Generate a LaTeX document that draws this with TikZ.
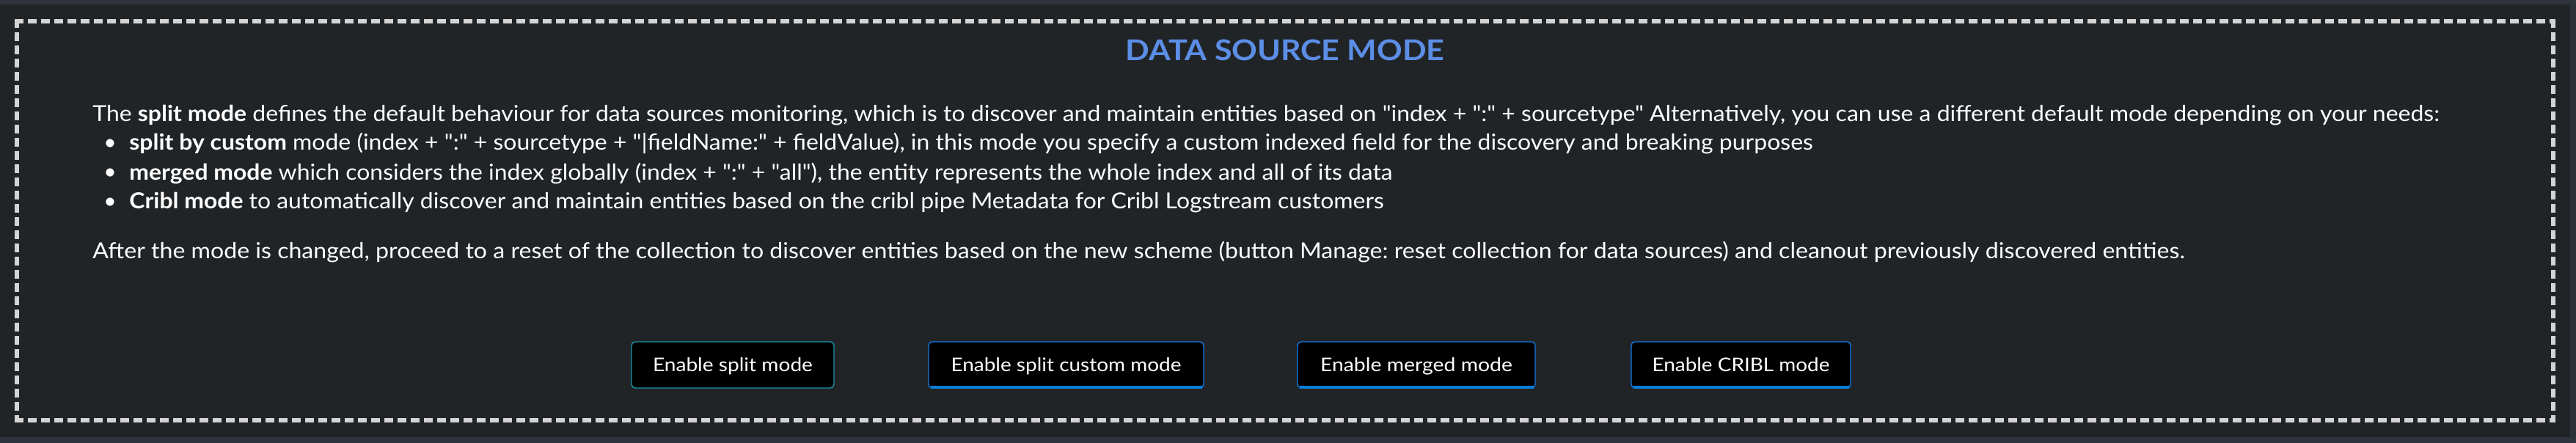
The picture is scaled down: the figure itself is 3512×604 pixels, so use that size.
\documentclass[tikz,border=0pt]{standalone}
\usepackage{fontspec}
\setmainfont{Lato}[Ligatures=TeXOff]
\usepackage{graphicx}
\frenchspacing
\definecolor{bgc}{RGB}{33,36,39}
\definecolor{stripc}{RGB}{47,52,60}
\definecolor{dashc}{RGB}{212,212,212}
\definecolor{titlec}{RGB}{92,142,230}
\definecolor{tealc}{RGB}{25,150,170}
\definecolor{bluec}{RGB}{20,122,232}
\definecolor{bluebot}{RGB}{10,125,215}
\newcommand{\fitw}[2]{\resizebox{#1}{\height}{#2}}
\tikzset{
  frame/.style={draw=dashc, line width=3pt, dash pattern=on 6pt off 3pt},
  titlestyle/.style={inner sep=0pt, text=titlec, font=\fontsize{19.5pt}{22pt}\selectfont\bfseries},
  body/.style={inner sep=0pt, text=white, font=\fontsize{15pt}{18pt}\selectfont},
  btn/.style={draw, fill=black, rounded corners=2.5pt, line width=0.7pt, inner sep=0pt,
    minimum height=31.5pt, text height=9.5pt, text depth=1pt, text=white,
    font=\fontsize{12.8pt}{14pt}\selectfont},
  tealbtn/.style={btn, draw=tealc},
  bluebtn/.style={btn, draw=bluec}
}
\begin{document}
\begin{tikzpicture}[x=0.5pt,y=-0.5pt]
\useasboundingbox (0,0) rectangle (3512,604);
\fill[bgc] (0,0) rectangle (3512,604);
\fill[stripc] (0,0) rectangle (3512,6);
\fill[stripc] (0,596) rectangle (3512,604);
\fill[stripc!85!bgc] (3504,6) rectangle (3512,596);
% dashed frame
\coordinate (tl) at (20,29);
\coordinate (tr) at (3484,29);
\coordinate (bl) at (20,573);
\coordinate (br) at (3484,573);
\coordinate (lt) at (23,26);
\coordinate (lb) at (23,576);
\coordinate (rt) at (3481,26);
\coordinate (rb) at (3481,576);
\draw[frame] (tl) -- (tr);
\draw[frame] (bl) -- (br);
\draw[frame] (lt) -- (lb);
\draw[frame] (rt) -- (rb);
% title
\node[titlestyle, anchor=base] (title) at (1752,83) {\fitw{217.5pt}{DATA SOURCE MODE}};
% body text
\node[body, anchor=base west] (l1) at (126,166) {\fitw{1599.5pt}{The \textbf{split mode} defines the default behaviour for data sources monitoring, which is to discover and maintain entities based on "index + ":" + sourcetype" Alternatively, you can use a different default mode depending on your needs:}};
\node[body, anchor=base] (d1) at (150,205) {•};
\node[body, anchor=base west] (l2) at (176,205) {\fitw{1147.5pt}{\textbf{split by custom} mode (index + ":" + sourcetype + "|fieldName:" + fieldValue), in this mode you specify a custom indexed field for the discovery and breaking purposes}};
\node[body, anchor=base] (d2) at (150,245) {•};
\node[body, anchor=base west] (l3) at (176,245) {\fitw{861pt}{\textbf{merged mode} which considers the index globally (index + ":" + "all"), the entity represents the whole index and all of its data}};
\node[body, anchor=base] (d3) at (150,285) {•};
\node[body, anchor=base west] (l4) at (176,285) {\fitw{855pt}{\textbf{Cribl mode} to automatically discover and maintain entities based on the cribl pipe Metadata for Cribl Logstream customers}};
\node[body, anchor=base west] (l5) at (126,352) {\fitw{1426pt}{After the mode is changed, proceed to a reset of the collection to discover entities based on the new scheme (button Manage: reset collection for data sources) and cleanout previously discovered entities.}};
% buttons
\node[tealbtn, minimum width=138pt] (b1) at (999,497.5) {\fitw{109pt}{Enable split mode}};
\node[bluebtn, minimum width=187.5pt] (b2) at (1453.5,497.5) {\fitw{157pt}{Enable split custom mode}};
\node[bluebtn, minimum width=162pt] (b3) at (1931,497.5) {\fitw{131pt}{Enable merged mode}};
\node[bluebtn, minimum width=149.5pt] (b4) at (2373.5,497.5) {\fitw{121pt}{Enable CRIBL mode}};
\foreach \b in {b2,b3,b4}{
  \draw[bluebot, line width=1.6pt] ([xshift=1.6pt,yshift=0.9pt]\b.south west) -- ([xshift=-1.6pt,yshift=0.9pt]\b.south east);
}
\end{tikzpicture}
\end{document}
